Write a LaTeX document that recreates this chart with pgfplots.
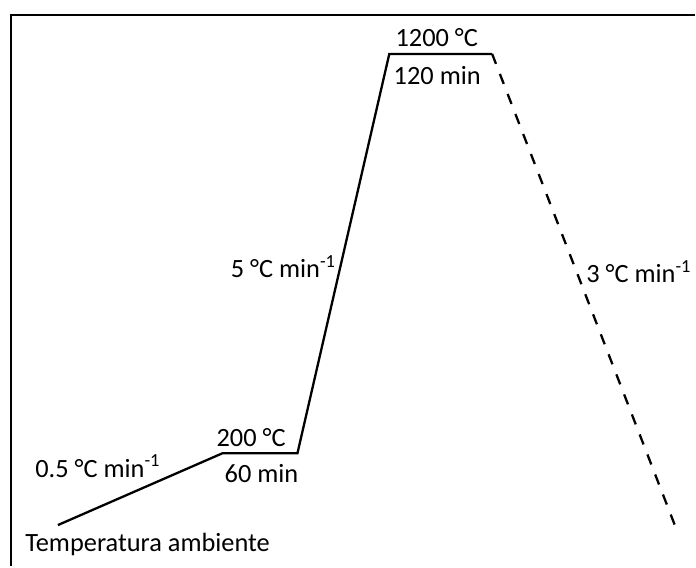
\documentclass[border=0pt]{standalone}
\usepackage{pgfplots}
\pgfplotsset{compat=1.18}
\usepackage{fontspec}
\setmainfont{Carlito}

\begin{document}
\begin{tikzpicture}[
  lbl/.style={inner sep=0pt, font=\fontsize{13.2bp}{15bp}\selectfont}
]
\begin{axis}[
  width=348bp, height=283.5bp, scale only axis,
  xmin=0, xmax=696, ymin=0, ymax=567,
  y dir=reverse,
  hide axis, clip=false,
]
% keep the full drawing area as the picture's extent
\path (rel axis cs:0,0) rectangle (rel axis cs:1,1);

% frame (top and left edges)
\addplot [black, line width=1.25bp] coordinates {(11,567) (11,15) (696,15)};

% heating: ramp, dwell at 200 C, ramp, dwell at 1200 C
\addplot [black, line width=1.15bp, line join=miter] coordinates {
  (58,526) (223,454) (298,454) (390,54) (493,54)
};
% cooling
\addplot [black, line width=1.15bp, dash pattern=on 5.35bp off 5.41bp] coordinates {
  (493,54) (676,526)
};

\node [lbl, anchor=base] at (axis cs:437.5,47) {1200 °C};
\node [lbl, anchor=base] at (axis cs:438,85) {120 min};
\node [lbl, anchor=base east] at (axis cs:337,278) {5 °C min\textsuperscript{-1}};
\node [lbl, anchor=base west] at (axis cs:587,283) {3 °C min\textsuperscript{-1}};
\node [lbl, anchor=base] at (axis cs:251.5,447) {200 °C};
\node [lbl, anchor=base] at (axis cs:262,483) {60 min};
\node [lbl, anchor=base west] at (axis cs:35,478) {0.5 °C min\textsuperscript{-1}};
\node [lbl, anchor=base west] at (axis cs:25,552) {Temperatura ambiente};
\end{axis}
\end{tikzpicture}
\end{document}
